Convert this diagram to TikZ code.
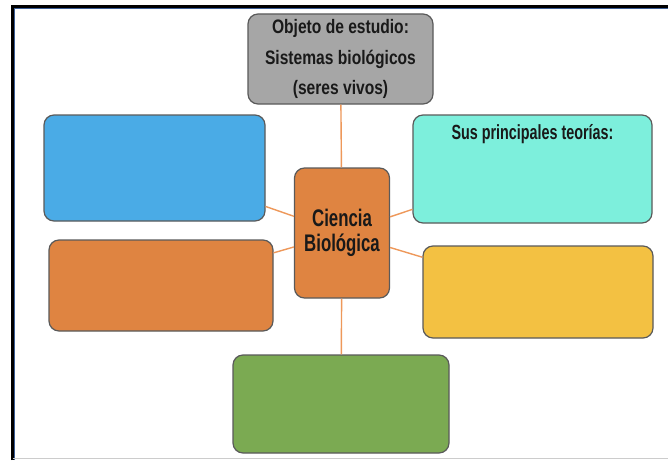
\documentclass[tikz,border=0pt]{standalone}
\usepackage{fontspec}
\setmainfont{Liberation Sans}
\newfontfamily\narrowfont{Liberation Sans}[FakeStretch=0.8]
\newfontfamily\condfont{Liberation Sans}[FakeStretch=0.7]
\definecolor{boxline}{HTML}{5A5A5A}
\definecolor{linkorange}{HTML}{EE985A}
\definecolor{grisbox}{HTML}{A6A6A6}
\definecolor{azulbox}{HTML}{4AABE6}
\definecolor{naranjabox}{HTML}{DF8441}
\definecolor{cianbox}{HTML}{7DEFDC}
\definecolor{amarillobox}{HTML}{F3C142}
\definecolor{verdebox}{HTML}{7BAA52}
\definecolor{marcoazul}{HTML}{3C5E96}
\begin{document}
\begin{tikzpicture}[x=1pt,y=-1pt,
  box/.style={draw=boxline,line width=1.2pt,rounded corners=10pt,inner sep=0pt,text=black!90},
  link/.style={draw=linkorange,line width=1.4pt}]
  \useasboundingbox[fill=white] (0,0) rectangle (668,460);
  % marco
  \draw[line width=3pt] (12.5,460) -- (12.5,6.5) -- (668,6.5);
  \draw[marcoazul,line width=1pt] (14.5,460) -- (14.5,8.5) -- (668,8.5);
  \draw[gray!40,line width=1.5pt] (12.5,458.5) -- (668,458.5);

  \node[box,fill=grisbox,minimum width=185pt,minimum height=90pt,align=center,
    font=\narrowfont\bfseries\fontsize{19.5}{30.5}\selectfont] (objeto) at (340.5,59)
    {Objeto de estudio:\\Sistemas biológicos\\(seres vivos)};
  \node[box,fill=naranjabox,minimum width=95pt,minimum height=130pt,align=center,
    font=\condfont\bfseries\fontsize{24}{25.5}\selectfont] (ciencia) at (342,233)
    {Ciencia\\Biológica};
  \node[box,fill=azulbox,minimum width=221pt,minimum height=106pt] (azul) at (154.5,168) {};
  \node[box,fill=naranjabox,minimum width=224pt,minimum height=91pt] (naranja) at (161,285.5) {};
  \node[box,fill=cianbox,minimum width=239pt,minimum height=108pt,
    label={[anchor=center,yshift=-20pt,text=black!90,font=\condfont\bfseries\fontsize{20.5}{24}\selectfont]north:Sus principales teorías:}] (teorias) at (532.5,169) {};
  \node[box,fill=amarillobox,minimum width=230pt,minimum height=92pt] (amarillo) at (538,292) {};
  \node[box,fill=verdebox,minimum width=216pt,minimum height=98pt] (verde) at (341,404) {};

  \draw[link](ciencia)--(objeto);
  \draw[link](ciencia)--(azul);
  \draw[link](ciencia)--(naranja);
  \draw[link](ciencia)--(teorias);
  \draw[link](ciencia)--(amarillo);
  \draw[link](ciencia)--(verde);
\end{tikzpicture}
\end{document}
